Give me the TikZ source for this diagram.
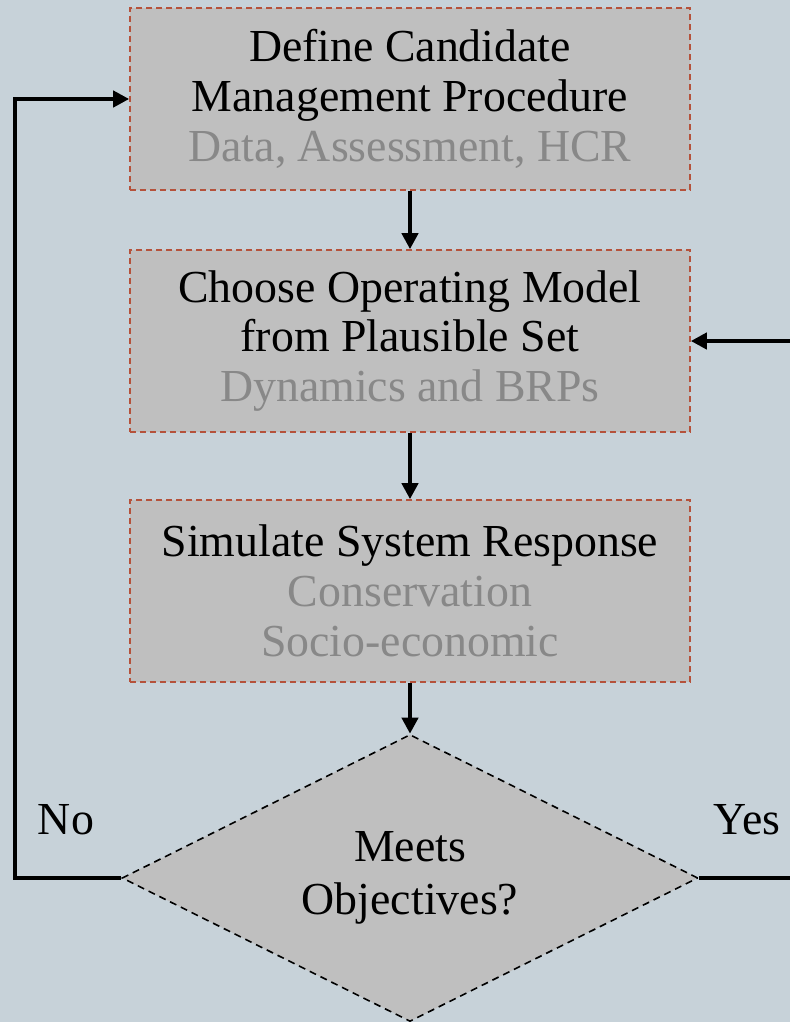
\documentclass[tikz,border=0pt]{standalone}
\usepackage{fontspec}
\setmainfont{Liberation Serif}
\usetikzlibrary{shapes.geometric,arrows.meta}
\definecolor{bgcol}{HTML}{C7D2D9}
\definecolor{boxcol}{HTML}{BFBFBF}
\definecolor{edgecol}{HTML}{B5523B}
\definecolor{subcol}{HTML}{888888}
\begin{document}
\begin{tikzpicture}[x=1bp,y=-1bp,
  stage/.style={draw=edgecol, fill=boxcol, line width=1.6bp, dash pattern=on 6bp off 4bp,
    minimum width=560bp, minimum height=182bp, inner sep=0pt, align=center,
    font=\fontsize{46}{50}\selectfont},
  choice/.style={draw=black, fill=boxcol, shape=diamond, aspect=2, line width=1.6bp, dash pattern=on 7bp off 5bp,
    minimum width=576bp, minimum height=287bp, inner sep=0pt, align=center,
    font=\fontsize{46}{53}\selectfont},
  flow/.style={line width=4.5bp, -{Triangle[length=16bp,width=16bp]}},
  lbl/.style={font=\fontsize{46}{50}\selectfont}]
\fill[bgcol] (0,0) rectangle (790,1022);
\useasboundingbox (0,0) rectangle (790,1022);
% stages
\node[stage] (mp) at (410,99) {Define Candidate\\Management Procedure\\\textcolor{subcol}{Data, Assessment, HCR}};
\node[stage] (om) at (410,341) {Choose Operating Model\\from Plausible Set\\\textcolor{subcol}{Dynamics and BRPs}};
\node[stage] (sim) at (410,591) {Simulate System Response\\\textcolor{subcol}{Conservation}\\\textcolor{subcol}{Socio-economic}};
\node[choice] (obj) at (410,878) {Meets\\Objectives?};
% loop corners
\coordinate (nocorner) at (15,878);
\coordinate (yescorner) at (800,878);
% connectors
\draw[flow] (mp) -- (om);
\draw[flow] (om) -- (sim);
\draw[flow] (sim) -- (obj);
\draw[flow] (obj.west) -- (nocorner) |- (mp.west);
\draw[flow] (obj.east) -- (yescorner) |- (om.east);
\node[lbl] (no) at (66,820) {No};
\node[lbl] (yes) at (747,820) {Yes};
\end{tikzpicture}
\end{document}
